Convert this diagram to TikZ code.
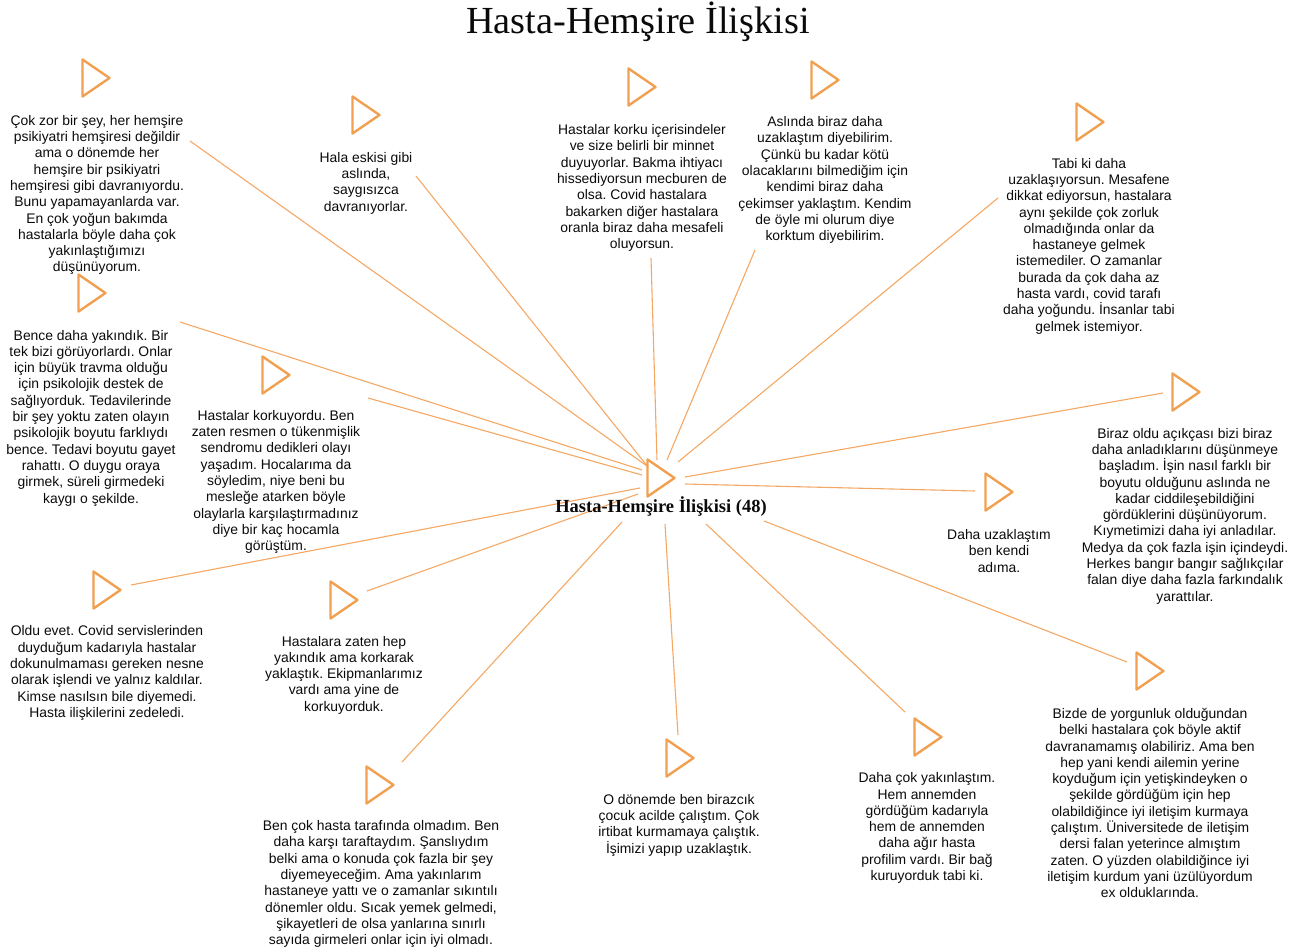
\documentclass[tikz,border=0pt]{standalone}
\usepackage{fontspec}
\setmainfont{Liberation Serif}
\newfontfamily\arialf{Liberation Sans}
\definecolor{lineor}{RGB}{244,168,100}
\definecolor{trior}{RGB}{240,160,80}
\definecolor{txtc}{RGB}{10,10,10}
\frenchspacing
\begin{document}
\begin{tikzpicture}[x=1pt,y=-1pt,
  conn/.style={draw=lineor, line width=1.1pt},
  trist/.style={draw=trior, line width=2.4pt, line join=round},
  txt/.style={font=\arialf\fontsize{13.9}{16.3}\selectfont, align=center, text=txtc, inner sep=0pt},
  tri/.pic={\draw[trist] (-13.5,-18.5) -- (13.5,0) -- (-13.5,18.5) -- cycle;}
]
\useasboundingbox (0,0) rectangle (1312,951);

% title
\node[font=\fontsize{38.3}{42}\selectfont, text=txtc] (title) at (638,22) {Hasta-Hemşire İlişkisi};

% connectors (drawn first)
\coordinate (a1) at (190,141);   \coordinate (c1) at (647,466);
\coordinate (a2) at (416,176);   \coordinate (c2) at (648,467);
\coordinate (a3) at (651,258);   \coordinate (c3) at (657,460);
\coordinate (a4) at (755,250);   \coordinate (c4) at (667,460);
\coordinate (a5) at (998,198);   \coordinate (c5) at (678,462);
\coordinate (a6) at (180,322);   \coordinate (c6) at (642,470);
\coordinate (a7) at (368,398);   \coordinate (c7) at (642,475);
\coordinate (a8) at (1163,393);  \coordinate (c8) at (685,477);
\coordinate (a9) at (975,491);   \coordinate (c9) at (685,484);
\coordinate (a10) at (131,585);  \coordinate (c10) at (640,488);
\coordinate (a11) at (367,591);  \coordinate (c11) at (638,494);
\coordinate (a12) at (402,762);  \coordinate (c12) at (622,522);
\coordinate (a13) at (678,735);  \coordinate (c13) at (665,524);
\coordinate (a14) at (905,712);  \coordinate (c14) at (706,524);
\coordinate (a15) at (1127,662); \coordinate (c15) at (764,521);
\foreach \i in {1,...,15} { \draw[conn] (a\i) -- (c\i); }

% central node
\coordinate (ct) at (661,478);
\pic at (ct) {tri};
\node[font=\bfseries\fontsize{18.5}{20}\selectfont, text=txtc] (center) at (661,507) {Hasta-Hemşire İlişkisi (48)};

% child triangles
\coordinate (t1) at (96,78);
\coordinate (t2) at (366,115);
\coordinate (t3) at (642,87);
\coordinate (t4) at (825,80);
\coordinate (t5) at (1090,122);
\coordinate (t6) at (92,293);
\coordinate (t7) at (276,375);
\coordinate (t8) at (1186,392);
\coordinate (t9) at (999,492);
\coordinate (t10) at (107,590);
\coordinate (t11) at (344,600);
\coordinate (t12) at (380,785);
\coordinate (t13) at (680,758);
\coordinate (t14) at (928,737);
\coordinate (t15) at (1150,671);
\foreach \i in {1,...,15} { \pic at (t\i) {tri}; }

% texts
\node[txt] (n1) at (97,195) {Çok zor bir şey, her hemşire\\psikiyatri hemşiresi değildir\\ama o dönemde her\\hemşire bir psikiyatri\\hemşiresi gibi davranıyordu.\\Bunu yapamayanlarda var.\\En çok yoğun bakımda\\hastalarla böyle daha çok\\yakınlaştığımızı\\düşünüyorum.};
\node[txt] (n2) at (366,183) {Hala eskisi gibi\\aslında,\\saygısızca\\davranıyorlar.};
\node[txt] (n3) at (642,188) {Hastalar korku içerisindeler\\ve size belirli bir minnet\\duyuyorlar. Bakma ihtiyacı\\hissediyorsun mecburen de\\olsa. Covid hastalara\\bakarken diğer hastalara\\oranla biraz daha mesafeli\\oluyorsun.};
\node[txt] (n4) at (825,180) {Aslında biraz daha\\uzaklaştım diyebilirim.\\Çünkü bu kadar kötü\\olacaklarını bilmediğim için\\kendimi biraz daha\\çekimser yaklaştım. Kendim\\de öyle mi olurum diye\\korktum diyebilirim.};
\node[txt] (n5) at (1089,246) {Tabi ki daha\\uzaklaşıyorsun. Mesafene\\dikkat ediyorsun, hastalara\\aynı şekilde çok zorluk\\olmadığında onlar da\\hastaneye gelmek\\istemediler. O zamanlar\\burada da çok daha az\\hasta vardı, covid tarafı\\daha yoğundu. İnsanlar tabi\\gelmek istemiyor.};
\node[txt] (n6) at (91,418) {Bence daha yakındık. Bir\\tek bizi görüyorlardı. Onlar\\için büyük travma olduğu\\için psikolojik destek de\\sağlıyorduk. Tedavilerinde\\bir şey yoktu zaten olayın\\psikolojik boyutu farklıydı\\bence. Tedavi boyutu gayet\\rahattı. O duygu oraya\\girmek, süreli girmedeki\\kaygı o şekilde.};
\node[txt] (n7) at (276,482) {Hastalar korkuyordu. Ben\\zaten resmen o tükenmişlik\\sendromu dedikleri olayı\\yaşadım. Hocalarıma da\\söyledim, niye beni bu\\mesleğe atarken böyle\\olaylarla karşılaştırmadınız\\diye bir kaç hocamla\\görüştüm.};
\node[txt] (n8) at (1185,516) {Biraz oldu açıkçası bizi biraz\\daha anladıklarını düşünmeye\\başladım. İşin nasıl farklı bir\\boyutu olduğunu aslında ne\\kadar ciddileşebildiğini\\gördüklerini düşünüyorum.\\Kıymetimizi daha iyi anladılar.\\Medya da çok fazla işin içindeydi.\\Herkes bangır bangır sağlıkçılar\\falan diye daha fazla farkındalık\\yarattılar.};
\node[txt] (n9) at (999,551) {Daha uzaklaştım\\ben kendi\\adıma.};
\node[txt] (n10) at (107,673) {Oldu evet. Covid servislerinden\\duyduğum kadarıyla hastalar\\dokunulmaması gereken nesne\\olarak işlendi ve yalnız kaldılar.\\Kimse nasılsın bile diyemedi.\\Hasta ilişkilerini zedeledi.};
\node[txt] (n11) at (344,675) {Hastalara zaten hep\\yakındık ama korkarak\\yaklaştık. Ekipmanlarımız\\vardı ama yine de\\korkuyorduk.};
\node[txt] (n12) at (381,884) {Ben çok hasta tarafında olmadım. Ben\\daha karşı taraftaydım. Şanslıydım\\belki ama o konuda çok fazla bir şey\\diyemeyeceğim. Ama yakınlarım\\hastaneye yattı ve o zamanlar sıkıntılı\\dönemler oldu. Sıcak yemek gelmedi,\\şikayetleri de olsa yanlarına sınırlı\\sayıda girmeleri onlar için iyi olmadı.};
\node[txt] (n13) at (679,825) {O dönemde ben birazcık\\çocuk acilde çalıştım. Çok\\irtibat kurmamaya çalıştık.\\İşimizi yapıp uzaklaştık.};
\node[txt] (n14) at (927,828) {Daha çok yakınlaştım.\\Hem annemden\\gördüğüm kadarıyla\\hem de annemden\\daha ağır hasta\\profilim vardı. Bir bağ\\kuruyorduk tabi ki.};
\node[txt] (n15) at (1150,803) {Bizde de yorgunluk olduğundan\\belki hastalara çok böyle aktif\\davranamamış olabiliriz. Ama ben\\hep yani kendi ailemin yerine\\koyduğum için yetişkindeyken o\\şekilde gördüğüm için hep\\olabildiğince iyi iletişim kurmaya\\çalıştım. Üniversitede de iletişim\\dersi falan yeterince almıştım\\zaten. O yüzden olabildiğince iyi\\iletişim kurdum yani üzülüyordum\\ex olduklarında.};
\end{tikzpicture}
\end{document}
